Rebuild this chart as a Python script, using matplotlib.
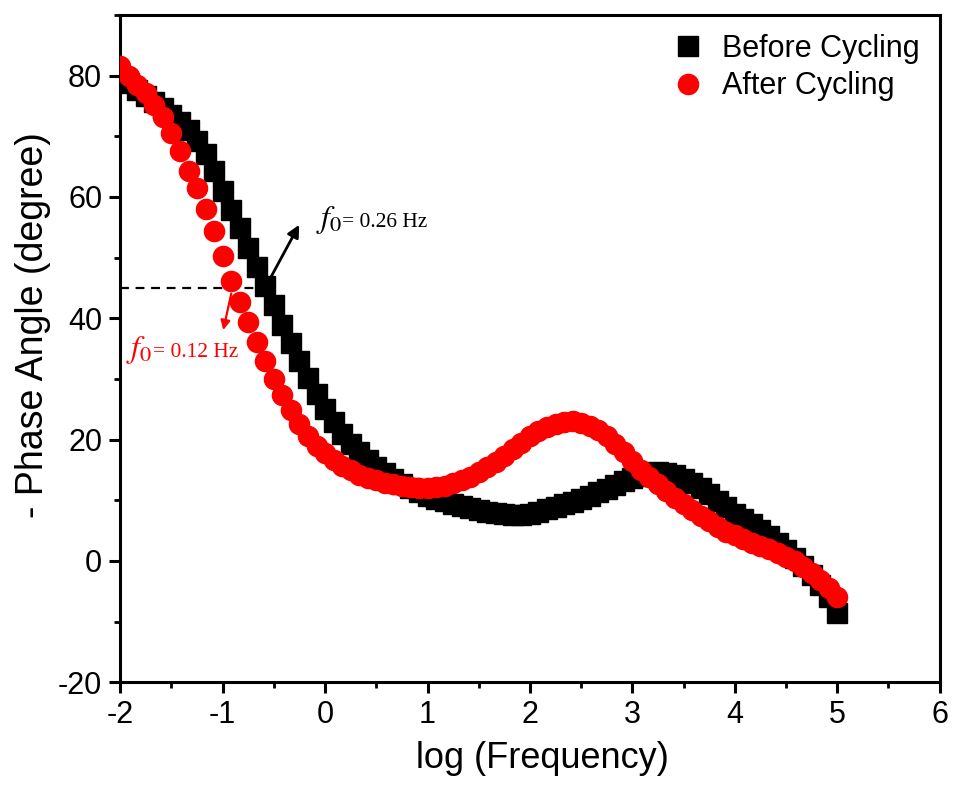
import matplotlib
matplotlib.use("Agg")
import matplotlib.pyplot as plt
from matplotlib.ticker import MultipleLocator

plt.rcParams["font.family"] = ["Liberation Sans", "DejaVu Sans"]
plt.rcParams["mathtext.fontset"] = "stix"
plt.rcParams["axes.unicode_minus"] = False

# log10 of measurement frequency (Hz), 12 points per decade
log_freq = [
    -2.000, -1.917, -1.833, -1.750, -1.667, -1.583, -1.500, -1.417, -1.333, -1.250,
    -1.167, -1.083, -1.000, -0.917, -0.833, -0.750, -0.667, -0.583, -0.500, -0.417,
    -0.333, -0.250, -0.167, -0.083, 0.000, 0.083, 0.167, 0.250, 0.333, 0.417,
    0.500, 0.583, 0.667, 0.750, 0.833, 0.917, 1.000, 1.083, 1.167, 1.250,
    1.333, 1.417, 1.500, 1.583, 1.667, 1.750, 1.833, 1.917, 2.000, 2.083,
    2.167, 2.250, 2.333, 2.417, 2.500, 2.583, 2.667, 2.750, 2.833, 2.917,
    3.000, 3.083, 3.167, 3.250, 3.333, 3.417, 3.500, 3.583, 3.667, 3.750,
    3.833, 3.917, 4.000, 4.083, 4.167, 4.250, 4.333, 4.417, 4.500, 4.583,
    4.667, 4.750, 4.833, 4.917, 5.000,
]

phase_before = [
    79.8, 78.7, 77.6, 76.6, 75.6, 74.6, 73.5, 72.3, 71.0, 69.2,
    67.0, 64.2, 61.0, 57.9, 54.8, 51.6, 48.4, 45.3, 42.1, 38.9,
    35.9, 33.0, 30.1, 27.5, 25.1, 22.9, 20.9, 19.3, 17.9, 16.6,
    15.4, 14.4, 13.5, 12.7, 12.0, 11.3, 10.7, 10.2, 9.8, 9.4,
    9.0, 8.7, 8.4, 8.1, 7.9, 7.7, 7.6, 7.6, 7.8, 8.1,
    8.5, 8.9, 9.3, 9.7, 10.2, 10.7, 11.3, 11.9, 12.5, 13.1,
    13.6, 14.0, 14.4, 14.6, 14.5, 14.1, 13.5, 12.8, 12.0, 11.0,
    9.9, 8.8, 7.8, 6.9, 6.0, 5.1, 4.1, 3.0, 1.8, 0.5,
    -0.9, -2.4, -4.0, -6.0, -8.6,
]

phase_after = [
    81.6, 79.9, 78.5, 77.2, 75.2, 73.1, 70.6, 67.5, 64.2, 61.5,
    58.0, 54.3, 50.3, 46.2, 42.6, 39.3, 36.1, 32.9, 30.0, 27.3,
    24.8, 22.6, 20.6, 19.0, 17.7, 16.6, 15.7, 14.9, 14.2, 13.7,
    13.3, 12.9, 12.6, 12.3, 12.1, 12.0, 12.0, 12.1, 12.4, 12.8,
    13.3, 13.9, 14.6, 15.4, 16.3, 17.3, 18.4, 19.5, 20.5, 21.4,
    22.1, 22.6, 22.9, 23.0, 22.8, 22.3, 21.5, 20.5, 19.3, 18.0,
    16.4, 15.0, 13.8, 12.6, 11.5, 10.4, 9.4, 8.4, 7.4, 6.5,
    5.5, 4.8, 4.2, 3.6, 3.0, 2.4, 1.9, 1.3, 0.7, -0.1,
    -1.0, -2.0, -3.2, -4.5, -5.9,
]

f0_before = 0.26
f0_after = 0.12


def main():
    fig = plt.figure(figsize=(9.54, 7.85), dpi=100)
    ax = fig.add_axes([0.126, 0.131, 0.859, 0.850])

    ax.plot(log_freq, phase_before, ls="none", marker="s", ms=14,
            color="black", mec="black", label="Before Cycling", zorder=3)
    ax.plot(log_freq, phase_after, ls="none", marker="o", ms=14.5,
            color="red", mec="red", label="After Cycling", zorder=4)

    # characteristic frequency markers
    ax.plot([-2, -0.6], [45, 45], ls=(0, (4, 3)), color="black", lw=1.6, zorder=2)
    ax.annotate("", xy=(-0.24, 55.8), xytext=(-0.56, 45.8),
                arrowprops=dict(arrowstyle="-|>", color="black", lw=2,
                                mutation_scale=18), zorder=5)
    ax.annotate("", xy=(-1.0, 37.6), xytext=(-0.91, 44.5),
                arrowprops=dict(arrowstyle="-|>", color="red", lw=1.6,
                                mutation_scale=14), zorder=5)

    serif = ["Liberation Serif", "DejaVu Serif"]
    ax.text(-0.09, 55.0, r"$f_0$", fontsize=23, color="black", va="baseline")
    ax.text(0.17, 55.0, f"= {f0_before} Hz", fontsize=15.5, color="black",
            va="baseline", family=serif)
    ax.text(-1.94, 33.6, r"$f_0$", fontsize=23, color="red", va="baseline")
    ax.text(-1.68, 33.6, f"= {f0_after} Hz", fontsize=15.5, color="red",
            va="baseline", family=serif)

    ax.set_xlim(-2, 6)
    ax.set_ylim(-20, 90)
    ax.xaxis.set_major_locator(MultipleLocator(1))
    ax.xaxis.set_minor_locator(MultipleLocator(0.5))
    ax.yaxis.set_major_locator(MultipleLocator(20))
    ax.yaxis.set_minor_locator(MultipleLocator(10))
    ax.tick_params(which="major", direction="out", length=8, width=2.2,
                   labelsize=22, pad=5)
    ax.tick_params(which="minor", direction="out", length=4.5, width=2.0)
    for sp in ax.spines.values():
        sp.set_linewidth(2.2)

    ax.set_xlabel("log (Frequency)", fontsize=26)
    ax.set_ylabel("- Phase Angle (degree)", fontsize=27)
    ax.xaxis.set_label_coords(0.515, -0.088)
    ax.yaxis.set_label_coords(-0.085, 0.535)

    ax.legend(loc="upper right", frameon=False, fontsize=22,
              handletextpad=0.6, borderaxespad=0.0, labelspacing=0.25,
              handlelength=1.0, bbox_to_anchor=(0.99, 0.99))

    fig.savefig("out.png", dpi=100)


if __name__ == "__main__":
    main()
